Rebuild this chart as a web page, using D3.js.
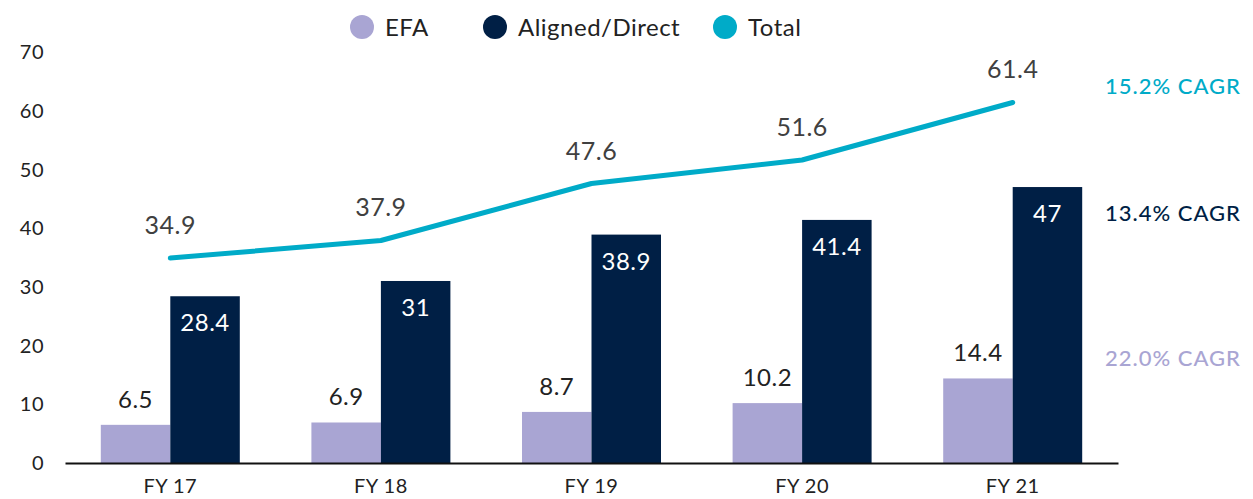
<!DOCTYPE html>
<html>
<head>
<meta charset="utf-8">
<script src="https://cdn.jsdelivr.net/npm/d3@7"></script>
<style>
  body { margin: 0; background: #fff; }
  svg { font-family: Lato, "Open Sans", sans-serif; }
</style>
</head>
<body>
<script>
var width = 1253;
var height = 499;

var years = ["FY 17", "FY 18", "FY 19", "FY 20", "FY 21"];
var efa = [6.5, 6.9, 8.7, 10.2, 14.4];
var aligned = [28.4, 31, 38.9, 41.4, 47];
var total = [34.9, 37.9, 47.6, 51.6, 61.4];
var yTicks = [0, 10, 20, 30, 40, 50, 60, 70];
var cagrText = ["15.2% CAGR", "13.4% CAGR", "22.0% CAGR"];
var cagrAt = [64.2, 42.6, 17.9];
var cagrColor = ["#00abc8", "#001f45", "#a9a5d3"];
var series = [
  {name: "EFA", color: "#a9a5d3"},
  {name: "Aligned/Direct", color: "#001f45"},
  {name: "Total", color: "#00abc8"}
];

var svg = d3.select("body").append("svg")
  .attr("width", width)
  .attr("height", height);

var x = d3.scaleBand()
  .domain(years)
  .range([65, 1118])
  .paddingInner(0)
  .paddingOuter(0);

var sub = d3.scaleBand()
  .domain(["efa", "aligned"])
  .range([x.bandwidth() * 0.17, x.bandwidth() * 0.83]);

var y = d3.scaleLinear()
  .domain([0, 70])
  .range([463, 52]);

// y tick labels (no axis line)
svg.append("g").selectAll("text")
  .data(yTicks)
  .enter().append("text")
  .attr("x", 44)
  .attr("y", function(d) { return y(d); })
  .attr("dy", "0.36em")
  .attr("text-anchor", "end")
  .style("font-size", "20px")
  .style("letter-spacing", "0.5px")
  .style("fill", "#222")
  .text(function(d) { return d; });

var groups = svg.append("g").selectAll("g")
  .data(years)
  .enter().append("g")
  .attr("transform", function(d) { return "translate(" + x(d) + ",0)"; });

groups.append("rect")
  .attr("x", sub("efa"))
  .attr("width", sub.bandwidth())
  .attr("y", function(d, i) { return y(efa[i]); })
  .attr("height", function(d, i) { return y(0) - y(efa[i]); })
  .style("fill", "#a9a5d3");

groups.append("rect")
  .attr("x", sub("aligned"))
  .attr("width", sub.bandwidth())
  .attr("y", function(d, i) { return y(aligned[i]); })
  .attr("height", function(d, i) { return y(0) - y(aligned[i]); })
  .style("fill", "#001f45");

groups.append("text")
  .attr("x", sub("efa") + sub.bandwidth() / 2)
  .attr("y", function(d, i) { return y(efa[i]) - 17; })
  .attr("text-anchor", "middle")
  .style("font-size", "24px")
  .style("letter-spacing", "0.5px")
  .style("fill", "#222")
  .text(function(d, i) { return efa[i]; });

groups.append("text")
  .attr("x", sub("aligned") + sub.bandwidth() / 2)
  .attr("y", function(d, i) { return y(aligned[i]) + 35; })
  .attr("text-anchor", "middle")
  .style("font-size", "24px")
  .style("letter-spacing", "0.5px")
  .style("fill", "#fff")
  .text(function(d, i) { return aligned[i]; });

// x axis
var xAxis = svg.append("g")
  .attr("transform", "translate(0," + y(0) + ")")
  .call(d3.axisBottom(x).tickSize(0).tickPadding(16));
xAxis.select(".domain").attr("stroke", "#111").attr("stroke-width", 2);
xAxis.selectAll("text")
  .style("font-size", "20px")
  .style("letter-spacing", "0.5px")
  .style("font-family", "Lato, 'Open Sans', sans-serif")
  .style("fill", "#222");

// total line
var line = d3.line()
  .x(function(d, i) { return x(years[i]) + x.bandwidth() / 2; })
  .y(function(d) { return y(d); });

svg.append("path")
  .datum(total)
  .attr("d", line)
  .style("fill", "none")
  .style("stroke", "#00abc8")
  .style("stroke-width", 5)
  .style("stroke-linecap", "round")
  .style("stroke-linejoin", "round");

svg.append("g").selectAll("text")
  .data(total)
  .enter().append("text")
  .attr("x", function(d, i) { return x(years[i]) + x.bandwidth() / 2; })
  .attr("y", function(d) { return y(d) - 24; })
  .attr("text-anchor", "middle")
  .style("font-size", "25px")
  .style("letter-spacing", "0.5px")
  .style("fill", "#404040")
  .text(function(d) { return d; });

// CAGR notes
svg.append("g").selectAll("text")
  .data(cagrText)
  .enter().append("text")
  .attr("x", 1105)
  .attr("y", function(d, i) { return y(cagrAt[i]); })
  .attr("dy", "0.36em")
  .style("font-size", "22px")
  .style("font-weight", 500)
  .style("letter-spacing", "1px")
  .style("fill", function(d, i) { return cagrColor[i]; })
  .text(function(d) { return d; });

// legend
var legendX = [362, 495, 725];
var legend = svg.append("g").selectAll("g")
  .data(series)
  .enter().append("g")
  .attr("transform", function(d, i) { return "translate(" + legendX[i] + ",27)"; });

legend.append("circle")
  .attr("r", 12)
  .style("fill", function(d) { return d.color; });

legend.append("text")
  .attr("x", 23)
  .attr("dy", "0.36em")
  .style("font-size", "24px")
  .style("letter-spacing", "0.5px")
  .style("fill", "#222")
  .text(function(d) { return d.name; });
</script>
</body>
</html>
